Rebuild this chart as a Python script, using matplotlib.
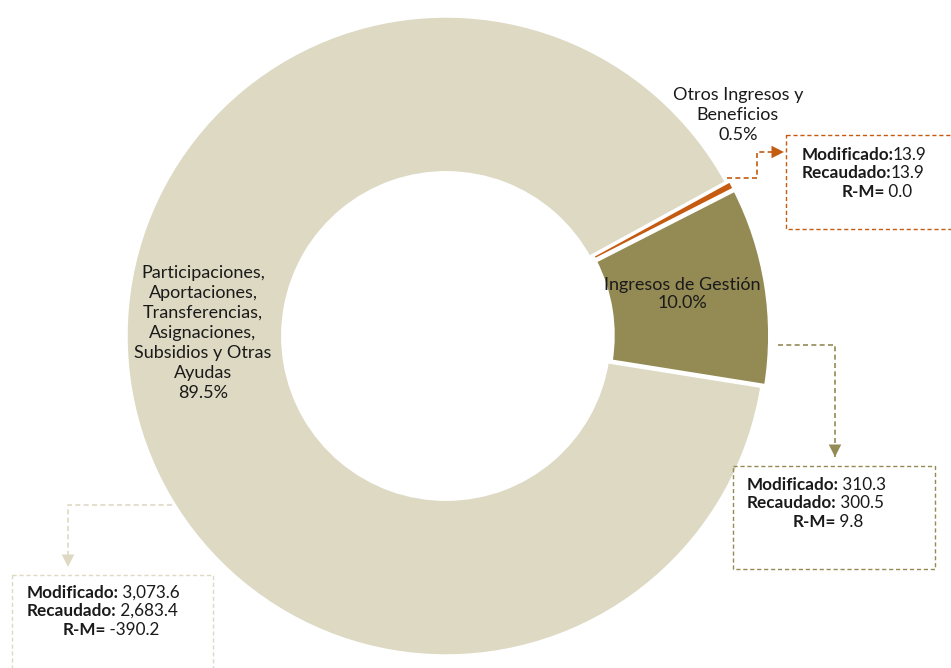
import matplotlib
matplotlib.use("Agg")
import matplotlib.pyplot as plt

plt.rcParams['font.family'] = ['Lato', 'DejaVu Sans']

# data
labels = ["Participaciones,\nAportaciones,\nTransferencias,\nAsignaciones,\nSubsidios y Otras\nAyudas",
          "Ingresos de Gestión",
          "Otros Ingresos y\nBeneficios"]
modificado = [3073.6, 310.3, 13.9]
recaudado = [2683.4, 300.5, 13.9]
r_m = [-390.2, 9.8, 0.0]
colors = ["#DDD9C3", "#948A54", "#C55A11"]

W, H = 951, 668
fig = plt.figure(figsize=(W / 100, H / 100), dpi=100)

# pie axes: center (446, 336) px, radius 320 px
cx, cy, r = 446, 336, 320
ax = fig.add_axes([(cx - r) / W, (H - cy - r) / H, 2 * r / W, 2 * r / H])
wedges, _ = ax.pie(recaudado, colors=colors, startangle=28.7, counterclock=True,
                   explode=[0, 0.012, 0.012],
                   wedgeprops=dict(width=0.49, edgecolor="white", linewidth=2.5))
ax.set_xlim(-1, 1)
ax.set_ylim(-1, 1)
ax.set_aspect("equal")
ax.axis("off")

total = sum(recaudado)
pct = [v / total * 100 for v in recaudado]

# overlay in pixel coords
ov = fig.add_axes([0, 0, 1, 1])
ov.set_xlim(0, W)
ov.set_ylim(H, 0)
ov.axis("off")

tc = "#1a1a1a"
ov.text(203, 333, labels[0] + "\n%.1f%%" % pct[0], ha="center", va="center",
        fontsize=13, color=tc, linespacing=1.3)
ov.text(682, 294, labels[1] + "\n%.1f%%" % pct[1], ha="center", va="center",
        fontsize=13, color=tc, linespacing=1.2)
ov.text(738, 115, labels[2] + "\n%.1f%%" % pct[2], ha="center", va="center",
        fontsize=13, color=tc, linespacing=1.3)

# callout boxes per slice index
callouts = {
    2: dict(box=(786, 135, 960, 229), path=[(727, 178), (757, 178), (757, 152), (784, 152)],
            tx=802, rmx=842, ty=155, sep=""),
    1: dict(box=(733, 466, 935, 569), path=[(778, 345), (835, 345), (835, 457)],
            tx=747, rmx=793, ty=485, sep=" "),
    0: dict(box=(12, 575, 213, 680), path=[(172, 505), (68, 505), (68, 567)],
            tx=27, rmx=63, ty=593, sep=" "),
}

fig.canvas.draw()
renderer = fig.canvas.get_renderer()
inv = ov.transData.inverted()


def rich_line(x, y, bold, normal):
    t = ov.text(x, y, bold, fontsize=12.3, fontweight="bold", color=tc, va="center", ha="left")
    bb = t.get_window_extent(renderer=renderer)
    x1 = inv.transform((bb.x1, bb.y0))[0]
    ov.text(x1 - 1, y, normal, fontsize=12.3, color=tc, va="center", ha="left")


def fmt(v):
    return "{:,.1f}".format(v)


for i, c in callouts.items():
    col = colors[i]
    x0, y0, x1, y1 = c["box"]
    ov.plot([x0, x1, x1, x0, x0], [y0, y0, y1, y1, y0], ls=(0, (3, 2)), lw=1,
            color=col, clip_on=False)
    px = [p[0] for p in c["path"]]
    py = [p[1] for p in c["path"]]
    ov.plot(px, py, ls=(0, (3, 2)), lw=1.2, color=col)
    ov.annotate("", xy=c["path"][-1], xytext=c["path"][-2],
                arrowprops=dict(arrowstyle="-|>,head_length=0.9,head_width=0.45",
                                color=col, lw=0, shrinkA=0, shrinkB=0))
    rich_line(c["tx"], c["ty"], "Modificado:", c["sep"] + fmt(modificado[i]))
    rich_line(c["tx"], c["ty"] + 18, "Recaudado:", c["sep"] + fmt(recaudado[i]))
    rich_line(c["rmx"], c["ty"] + 37, "R-M=", " " + fmt(r_m[i]))

fig.savefig("out.png", dpi=100)
